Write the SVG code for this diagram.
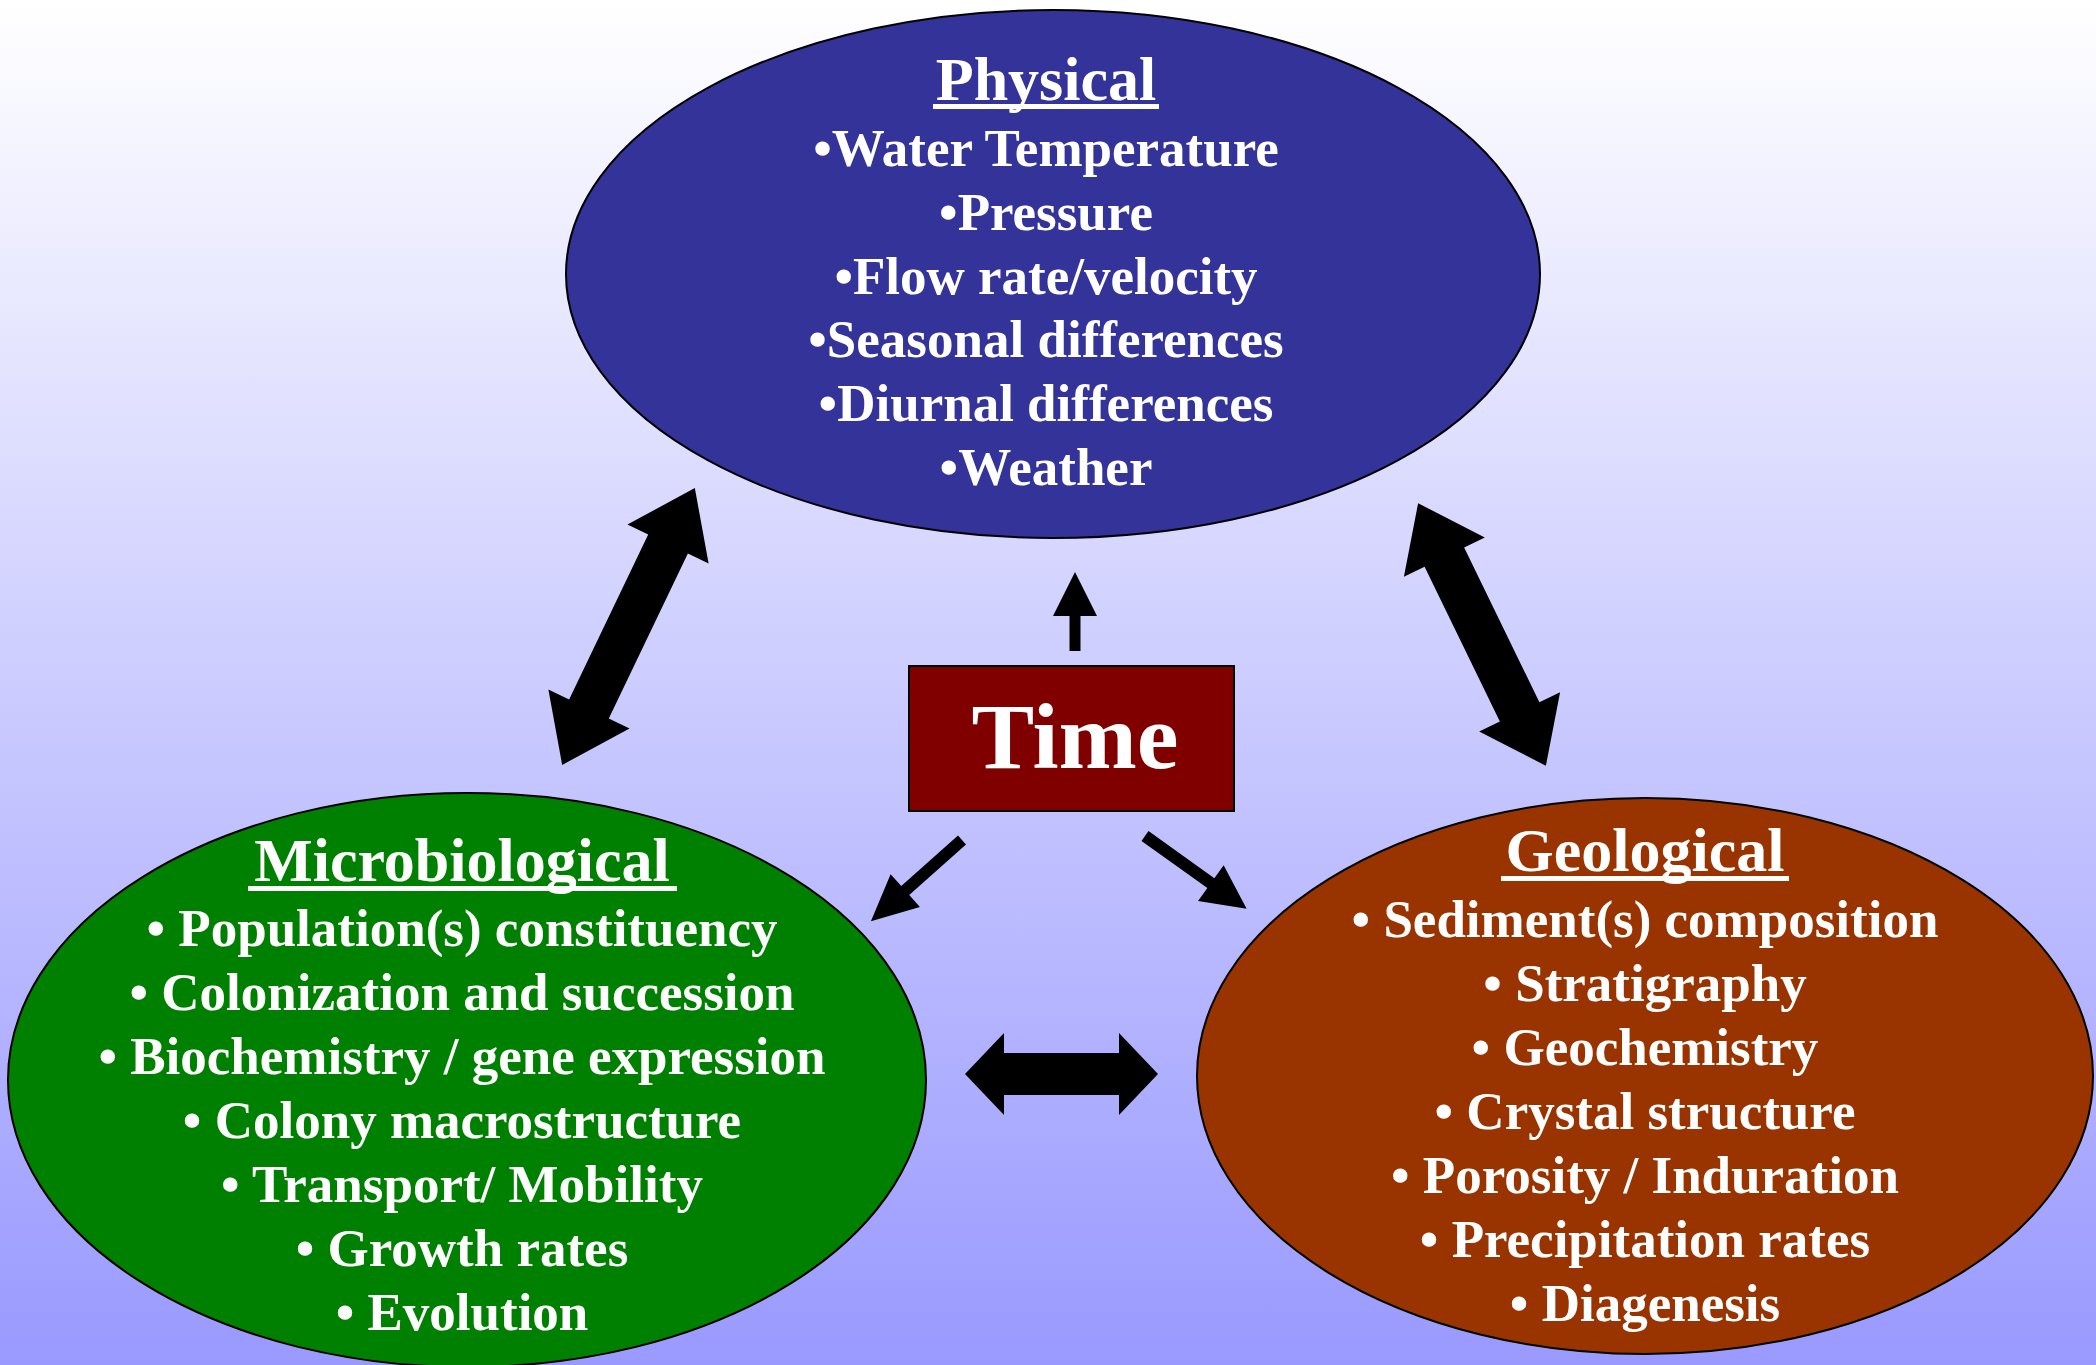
<svg xmlns="http://www.w3.org/2000/svg" width="2096" height="1365" viewBox="0 0 2096 1365">
  <defs>
    <linearGradient id="bg" x1="0" y1="0" x2="0" y2="1">
      <stop offset="0" stop-color="#FFFFFF"/>
      <stop offset="1" stop-color="#9999FF"/>
    </linearGradient>
  </defs>
  <style>
    .node { stroke: #000; stroke-width: 2; }
    .title { font-family: "Liberation Serif", "Times New Roman", serif; font-weight: bold; font-size: 62px; fill: #fff; text-anchor: middle; }
    .item { font-family: "Liberation Serif", "Times New Roman", serif; font-weight: bold; font-size: 53px; fill: #fff; text-anchor: middle; }
    .time { font-family: "Liberation Serif", "Times New Roman", serif; font-weight: bold; font-size: 94px; fill: #fff; text-anchor: middle; }
    .uline { fill: #fff; }
    .arrow { fill: #000; }
  </style>

  <!-- background -->
  <rect x="0" y="0" width="2096" height="1365" fill="url(#bg)"/>

  <!-- Physical -->
  <g id="physical">
    <ellipse class="node" cx="1053" cy="274" rx="487" ry="264" fill="#333399"/>
    <text class="title" x="1046" y="100">Physical</text>
    <rect class="uline" x="933" y="104" width="226" height="5"/>
    <text class="item" x="1046" y="166">•Water Temperature</text>
    <text class="item" x="1046" y="230">•Pressure</text>
    <text class="item" x="1046" y="294">•Flow rate/velocity</text>
    <text class="item" x="1046" y="357">•Seasonal differences</text>
    <text class="item" x="1046" y="421">•Diurnal differences</text>
    <text class="item" x="1046" y="485">•Weather</text>
  </g>

  <!-- Microbiological -->
  <g id="microbiological">
    <ellipse class="node" cx="467" cy="1080" rx="459" ry="287" fill="#008000"/>
    <text class="title" x="462" y="881">Microbiological</text>
    <rect class="uline" x="248" y="886" width="429" height="5"/>
    <text class="item" x="462" y="946">• Population(s) constituency</text>
    <text class="item" x="462" y="1010">• Colonization and succession</text>
    <text class="item" x="462" y="1074">• Biochemistry / gene expression</text>
    <text class="item" x="462" y="1138">• Colony macrostructure</text>
    <text class="item" x="462" y="1202">• Transport/ Mobility</text>
    <text class="item" x="462" y="1266">• Growth rates</text>
    <text class="item" x="462" y="1330">• Evolution</text>
  </g>

  <!-- Geological -->
  <g id="geological">
    <ellipse class="node" cx="1645" cy="1076" rx="448" ry="278" fill="#993300"/>
    <text class="title" x="1645" y="871">Geological</text>
    <rect class="uline" x="1501" y="876" width="288" height="5"/>
    <text class="item" x="1645" y="937">• Sediment(s) composition</text>
    <text class="item" x="1645" y="1001">• Stratigraphy</text>
    <text class="item" x="1645" y="1065">• Geochemistry</text>
    <text class="item" x="1645" y="1129">• Crystal structure</text>
    <text class="item" x="1645" y="1193">• Porosity / Induration</text>
    <text class="item" x="1645" y="1257">• Precipitation rates</text>
    <text class="item" x="1645" y="1321">• Diagenesis</text>
  </g>

  <!-- Time -->
  <g id="time">
    <rect class="node" x="909" y="666" width="325" height="145" fill="#800000"/>
    <text class="time" x="1075" y="768">Time</text>
  </g>

  <!-- connectors -->
  <g id="connectors">
    <!-- Physical <-> Microbiological -->
    <polygon class="arrow" transform="translate(628.5,626.5) rotate(-64.4)"
      points="-153.5,0 -91.5,-45 -91.5,-22 91.5,-22 91.5,-45 153.5,0 91.5,45 91.5,22 -91.5,22 -91.5,45"/>
    <!-- Physical <-> Geological -->
    <polygon class="arrow" transform="translate(1482,634.5) rotate(64.05)"
      points="-146,0 -86,-45 -86,-22 86,-22 86,-45 146,0 86,45 86,22 -86,22 -86,45"/>
    <!-- Microbiological <-> Geological -->
    <polygon class="arrow" transform="translate(1061.5,1074)"
      points="-96.5,0 -57.5,-41 -57.5,-21 57.5,-21 57.5,-41 96.5,0 57.5,41 57.5,21 -57.5,21 -57.5,41"/>
    <!-- Time -> Physical -->
    <polygon class="arrow" transform="translate(1075,651) rotate(-90)"
      points="0,-5.5 35,-5.5 35,-22 79,0 35,22 35,5.5 0,5.5"/>
    <!-- Time -> Microbiological -->
    <polygon class="arrow" transform="translate(962,840) rotate(138.3)"
      points="0,-6 76,-6 76,-22 122,0 76,22 76,6 0,6"/>
    <!-- Time -> Geological -->
    <polygon class="arrow" transform="translate(1145,836) rotate(35.6)"
      points="0,-6 81,-6 81,-22 125,0 81,22 81,6 0,6"/>
  </g>
</svg>
